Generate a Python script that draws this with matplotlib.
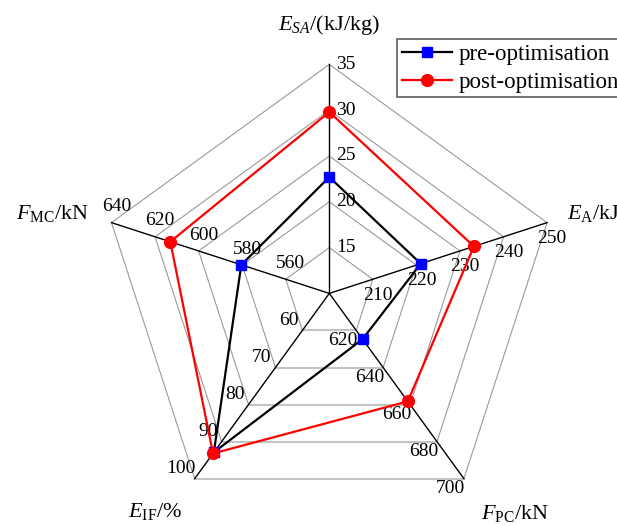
import numpy as np
import matplotlib.pyplot as plt
from matplotlib.lines import Line2D

plt.rcParams['font.family'] = 'Liberation Serif'
plt.rcParams['mathtext.fontset'] = 'custom'
plt.rcParams['mathtext.rm'] = 'Liberation Serif'
plt.rcParams['mathtext.it'] = 'Liberation Serif:italic'

# axes du radar (sens horaire depuis le haut)
titres = [r'$E_{SA}$/(kJ/kg)', r'$E_{\mathrm{A}}$/kJ', r'$F_{\mathrm{PC}}$/kN',
          r'$E_{\mathrm{IF}}$/%', r'$F_{\mathrm{MC}}$/kN']
mins = [10, 200, 600, 50, 540]
maxs = [35, 250, 700, 100, 640]
graduations = [[15, 20, 25, 30, 35],
               [210, 220, 230, 240, 250],
               [620, 640, 660, 680, 700],
               [60, 70, 80, 90, 100],
               [560, 580, 600, 620, 640]]

# valeurs
avant = [22.7, 221, 624.7, 92.9, 580.4]
apres = [29.8, 233.2, 658.3, 93.2, 613]

n = len(titres)
angles = np.deg2rad(90 - 72 * np.arange(n))
ux, uy = np.cos(angles), np.sin(angles)

def normaliser(vals):
    return [(v - a) / (b - a) for v, a, b in zip(vals, mins, maxs)]

fig = plt.figure(figsize=(6.17, 5.25), dpi=100)
ax = fig.add_axes([0, 0, 1, 1])
R = 229.0
cx, cy = 329.3, 293.4
ax.set_xlim(-cx / R, (617 - cx) / R)
ax.set_ylim(-(525 - cy) / R, cy / R)
ax.axis('off')

# anneaux pentagonaux
for k in range(1, 6):
    r = k / 5
    xs = np.append(r * ux, r * ux[0])
    ys = np.append(r * uy, r * uy[0])
    for i in range(n):
        if i == 2:  # bord du bas, plus clair
            ax.plot(xs[i:i + 2], ys[i:i + 2], color='#c4c4c4', lw=1.5, zorder=1)
        else:
            ax.plot(xs[i:i + 2], ys[i:i + 2], color='#9a9a9a', lw=0.8, zorder=1)

# rayons
for i in range(n):
    ax.plot([0, ux[i]], [0, uy[i]], color='black', lw=1.0, zorder=2)

# graduations
for i in range(n):
    px, py = np.cos(angles[i] - np.pi / 2), np.sin(angles[i] - np.pi / 2)
    for t in graduations[i]:
        r = (t - mins[i]) / (maxs[i] - mins[i])
        ax.annotate(str(t), (r * ux[i], r * uy[i]), xytext=(px * 12, py * 12),
                    textcoords='offset points', ha='center', va='center',
                    fontsize=14, zorder=3)

# séries
for vals, ligne, coul, mk, ms in [(avant, 'black', '#0000ff', 's', 7),
                                 (apres, '#ff0000', '#ff0000', 'o', 8.5)]:
    r = np.array(normaliser(vals))
    xs = np.append(r * ux, r[0] * ux[0])
    ys = np.append(r * uy, r[0] * uy[0])
    ax.plot(xs, ys, color=ligne, lw=1.6, zorder=4)
    ax.plot(r * ux, r * uy, ls='none', marker=mk, ms=ms, color=coul,
            mec=coul, zorder=5)

# titres des axes
fig.text(329 / 617, 1 - 25 / 525, titres[0], ha='center', va='center', fontsize=16)
fig.text(567 / 617, 1 - 213 / 525, titres[1], ha='left', va='center', fontsize=16)
fig.text(515 / 617, 1 - 513 / 525, titres[2], ha='center', va='center', fontsize=16)
fig.text(155 / 617, 1 - 512 / 525, titres[3], ha='center', va='center', fontsize=16)
fig.text(53 / 617, 1 - 213 / 525, titres[4], ha='center', va='center', fontsize=16)

# légende
poignees = [Line2D([], [], color='black', lw=1.6, marker='s', ms=7,
                   mfc='#0000ff', mec='#0000ff'),
            Line2D([], [], color='#ff0000', lw=1.6, marker='o', ms=8.5,
                   mfc='#ff0000', mec='#ff0000')]
leg = fig.legend(poignees, ['pre-optimisation', 'post-optimisation'],
                 loc='upper left', bbox_to_anchor=(397 / 617, 1 - 39 / 525),
                 fontsize=16.5, frameon=True, fancybox=False, borderaxespad=0,
                 handlelength=2.2, handletextpad=0.3, borderpad=0.2,
                 labelspacing=0.3)
leg.get_frame().set_edgecolor('#333333')
leg.get_frame().set_linewidth(1.2)

plt.savefig('out.png', dpi=100)
